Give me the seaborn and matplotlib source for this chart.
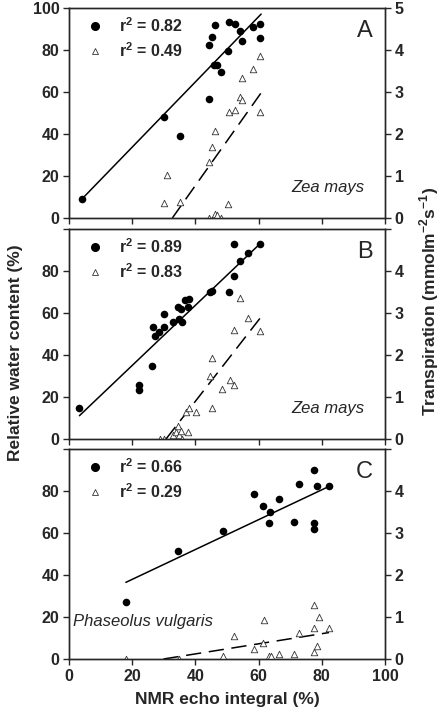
import matplotlib
matplotlib.use("Agg")
import matplotlib.pyplot as plt
from matplotlib.lines import Line2D
import seaborn as sns

# panel A, Zea mays
a_rwc_x = [4.0, 30.1, 35.1, 44.2, 44.2, 45.1, 46.1, 46.0, 46.8, 48.2, 50.2, 50.7, 52.4,
           54.1, 54.9, 58.1, 60.5, 60.5]
a_rwc_y = [8.9, 48.3, 39.0, 56.7, 82.2, 86.3, 91.9, 72.9, 72.9, 69.7, 79.5, 93.3, 92.4,
           89.2, 84.4, 90.8, 92.4, 85.7]
a_tr_x = [31.1, 30.1, 35.1, 44.2, 46.1, 46.7, 48.1, 50.2, 44.2, 45.1, 46.1, 50.6, 52.5,
          54.1, 54.7, 54.8, 58.1, 60.5, 60.5]
a_tr_y = [1.02, 0.35, 0.39, 0.01, 0.10, 0.07, 0.0, 0.33, 1.34, 1.70, 2.07, 2.53, 2.57,
          2.89, 2.81, 3.34, 3.55, 3.86, 2.53]

# panel B, Zea mays
b_rwc_x = [3.3, 22.0, 22.0, 26.3, 26.7, 27.3, 28.4, 30.1, 30.2, 32.8, 34.9, 35.9, 34.5,
           35.5, 36.8, 37.9, 37.7, 44.6, 45.1, 50.7, 52.2, 52.3, 54.2, 56.5, 60.4]
b_rwc_y = [14.9, 25.9, 23.3, 34.6, 53.2, 49.2, 51.1, 59.5, 53.5, 55.9, 57.1, 55.6, 62.7,
           61.9, 66.2, 66.7, 62.9, 69.8, 70.6, 70.2, 77.8, 92.9, 84.9, 88.6, 92.9]
b_tr_x = [28.8, 30.1, 33.0, 33.9, 34.5, 34.9, 35.3, 35.9, 37.8, 37.0, 38.1, 40.1, 45.3,
          44.5, 45.1, 48.5, 50.8, 52.2, 52.3, 54.2, 56.5, 60.4]
b_tr_y = [0.0, 0.0, 0.10, 0.16, 0.30, 0.10, 0.20, 0.0, 0.16, 0.65, 0.75, 0.65, 0.73,
          1.51, 1.92, 1.18, 1.40, 1.29, 2.60, 3.36, 2.87, 2.56]

# panel C, Phaseolus vulgaris
c_rwc_x = [18.0, 34.6, 48.8, 58.6, 61.5, 63.7, 63.4, 66.6, 71.2, 72.8, 77.5, 77.5, 77.5,
           78.4, 82.3]
c_rwc_y = [27.3, 51.4, 60.8, 78.6, 72.7, 69.8, 64.8, 76.2, 65.4, 83.3, 90.2, 64.6, 61.9,
           82.5, 82.5]
c_tr_x = [18.0, 34.8, 48.8, 52.3, 58.6, 61.5, 61.7, 63.4, 63.9, 66.6, 71.2, 72.8, 77.5,
          77.5, 77.5, 78.4, 79.0, 82.3]
c_tr_y = [0.0, 0.0, 0.08, 0.54, 0.24, 0.37, 0.94, 0.08, 0.06, 0.13, 0.12, 0.63, 1.29,
          0.74, 0.17, 0.32, 0.99, 0.75]

# fitted lines (start/end x, start/end y)
rwc_fit_x = [[4.0, 60.8], [3.3, 60.4], [18.0, 82.3]]
rwc_fit_y = [[8.9, 97.1], [11.1, 92.9], [36.5, 82.2]]
tr_fit_x = [[32.7, 60.8], [30.7, 60.4], [29.9, 82.3]]
tr_fit_y = [[0.0, 2.98], [0.0, 2.87], [0.0, 0.63]]

r2_rwc = ["0.82", "0.89", "0.66"]
r2_tr = ["0.49", "0.83", "0.29"]
panel_labels = ["A", "B", "C"]
species = ["Zea mays", "Zea mays", "Phaseolus vulgaris"]

sns.set_style("ticks")
plt.rcParams["font.family"] = ["Liberation Sans", "DejaVu Sans"]
plt.rcParams["mathtext.fontset"] = "custom"
plt.rcParams["mathtext.bf"] = "Liberation Sans:bold"
plt.rcParams["mathtext.rm"] = "Liberation Sans:bold"

fig = plt.figure(figsize=(4.42, 7.2), dpi=100)
left, width = 69 / 442, 316 / 442
tops = [8, 229, 449]
h = 210

panels = [(a_rwc_x, a_rwc_y, a_tr_x, a_tr_y),
          (b_rwc_x, b_rwc_y, b_tr_x, b_tr_y),
          (c_rwc_x, c_rwc_y, c_tr_x, c_tr_y)]

for i, (rx, ry, tx, ty) in enumerate(panels):
    ax = fig.add_axes([left, 1 - (tops[i] + h) / 720, width, h / 720])
    ax2 = ax.twinx()
    ax.set_zorder(ax2.get_zorder() + 1)
    ax.patch.set_visible(False)

    sns.scatterplot(x=tx, y=ty, ax=ax2, marker="^", s=22, facecolor="white",
                    edgecolor="#333333", linewidth=0.6, zorder=3)
    sns.lineplot(x=tr_fit_x[i], y=tr_fit_y[i], ax=ax2, color="black", lw=1.1, zorder=2)
    ax2.lines[-1].set_dashes((10, 5))

    sns.scatterplot(x=rx, y=ry, ax=ax, color="black", s=30, edgecolor="black",
                    linewidth=0, zorder=4)
    sns.lineplot(x=rwc_fit_x[i], y=rwc_fit_y[i], ax=ax, color="black", lw=1.1, zorder=3)

    ax.set_xlim(0, 100)
    ax.set_ylim(0, 100)
    ax2.set_ylim(0, 5)
    ax.set_xticks(range(0, 101, 20))
    ax.set_yticks(range(0, 101, 20))
    ax2.set_yticks(range(0, 6))
    if i == 0:
        ax.set_yticklabels([str(v) for v in range(0, 101, 20)])
        ax2.set_yticklabels([str(v) for v in range(0, 6)])
    else:
        ax.set_yticklabels([str(v) for v in range(0, 81, 20)] + [""])
        ax2.set_yticklabels([str(v) for v in range(0, 5)] + [""])
    if i < 2:
        ax.set_xticklabels([])
    for a in (ax, ax2):
        a.tick_params(direction="out", length=4, width=1, labelsize=11.5, pad=3)
        for lab in a.get_xticklabels() + a.get_yticklabels():
            lab.set_fontweight("bold")
        for sp in a.spines.values():
            sp.set_visible(True)
            sp.set_linewidth(1)
    ax.tick_params(top=False)
    ax2.tick_params(top=False)
    ax.set_xlabel("")
    ax.set_ylabel("")
    ax2.set_ylabel("")

    handles = [Line2D([], [], ls="none", marker="o", color="black", ms=5.5),
               Line2D([], [], ls="none", marker="^", mfc="white", mec="#333333",
                      mew=0.6, ms=5)]
    ax.legend(handles, [r"$\mathbf{r^2}$ = " + r2_rwc[i], r"$\mathbf{r^2}$ = " + r2_tr[i]],
              loc="upper left", bbox_to_anchor=(0.02, 1.018), frameon=False,
              prop={"weight": "bold", "size": 11.5}, handletextpad=1.0,
              labelspacing=0.38, borderaxespad=0.35, handlelength=1)

    ax.text(0.935, 0.89, panel_labels[i], transform=ax.transAxes, fontsize=17,
            ha="center", va="center")
    if i < 2:
        ax.text(0.82, 0.145, species[i], transform=ax.transAxes, fontsize=12,
                style="italic", ha="center", va="center")
    else:
        ax.text(0.235, 0.18, species[i], transform=ax.transAxes, fontsize=12,
                style="italic", ha="center", va="center")

    if i == 2:
        ax.set_xlabel("NMR echo integral (%)", fontsize=12.5, fontweight="bold", labelpad=6)

fig.text(0.034, 0.51, "Relative water content (%)", rotation=90, ha="center",
         va="center", fontsize=12.5, fontweight="bold")
fig.text(0.972, 0.582, r"Transpiration (mmolm$^{\mathbf{-2}}$s$^{\mathbf{-1}}$)",
         rotation=90, ha="center", va="center", fontsize=12.5, fontweight="bold")

fig.savefig("out.png", dpi=100)
